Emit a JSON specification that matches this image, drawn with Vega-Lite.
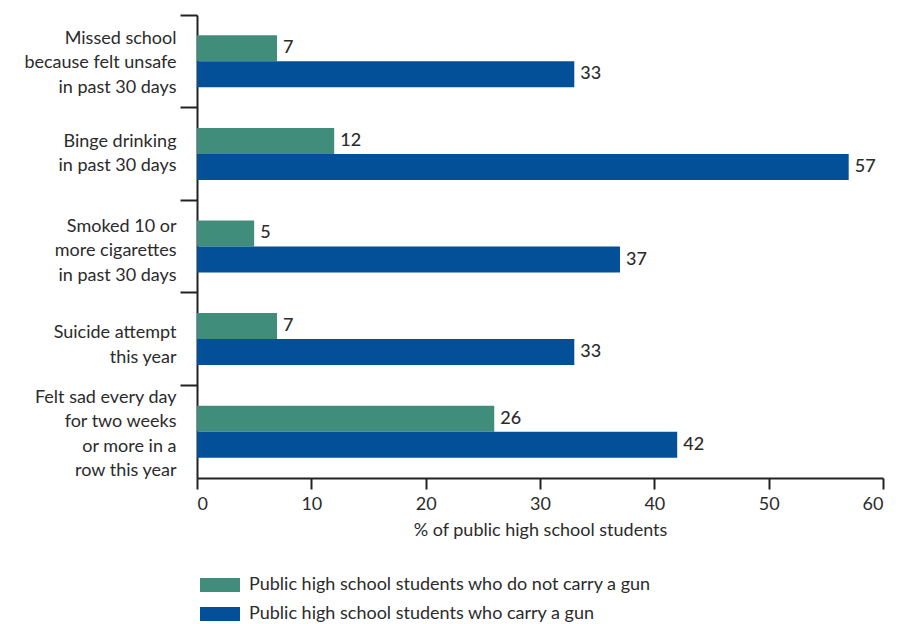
{
  "$schema": "https://vega.github.io/schema/vega-lite/v6.json",
  "width": 686,
  "height": 463,
  "autosize": "none",
  "padding": {"left": 197, "top": 15, "right": 15, "bottom": 146},
  "config": {"view": {"stroke": null}, "font": "Lato", "text": {"color": "#2b2b2b"}},
  "data": {
    "values": [
      {"category": "Missed school|because felt unsafe|in past 30 days", "group": "Public high school students who do not carry a gun", "value": 7},
      {"category": "Missed school|because felt unsafe|in past 30 days", "group": "Public high school students who carry a gun", "value": 33},
      {"category": "Binge drinking|in past 30 days", "group": "Public high school students who do not carry a gun", "value": 12},
      {"category": "Binge drinking|in past 30 days", "group": "Public high school students who carry a gun", "value": 57},
      {"category": "Smoked 10 or|more cigarettes|in past 30 days", "group": "Public high school students who do not carry a gun", "value": 5},
      {"category": "Smoked 10 or|more cigarettes|in past 30 days", "group": "Public high school students who carry a gun", "value": 37},
      {"category": "Suicide attempt|this year", "group": "Public high school students who do not carry a gun", "value": 7},
      {"category": "Suicide attempt|this year", "group": "Public high school students who carry a gun", "value": 33},
      {"category": "Felt sad every day|for two weeks|or more in a|row this year", "group": "Public high school students who do not carry a gun", "value": 26},
      {"category": "Felt sad every day|for two weeks|or more in a|row this year", "group": "Public high school students who carry a gun", "value": 42}
    ]
  },
  "encoding": {
    "y": {
      "field": "category",
      "type": "nominal",
      "sort": null,
      "scale": {"paddingInner": 0, "paddingOuter": 0},
      "axis": {
        "title": null,
        "bandPosition": 0,
        "labelExpr": "split(datum.label, '|')",
        "labelLineHeight": 24.5,
        "labelFontSize": 18,
        "labelColor": "#2b2b2b",
        "labelAlign": "right",
        "labelBaseline": "middle",
        "labelPadding": 4,
        "labelOffset": {
          "condition": [
            {"test": "indexof(datum.value, 'Missed') == 0", "value": -22.5},
            {"test": "indexof(datum.value, 'Binge') == 0", "value": -12},
            {"test": "indexof(datum.value, 'Smoked') == 0", "value": -20},
            {"test": "indexof(datum.value, 'Suicide') == 0", "value": -6},
            {"test": "indexof(datum.value, 'Felt') == 0", "value": -34}
          ],
          "value": 0
        },
        "tickSize": 17,
        "tickWidth": 2,
        "tickColor": "#222",
        "domainColor": "#222",
        "domainWidth": 2,
        "labelLimit": 300
      }
    },
    "yOffset": {
      "field": "group",
      "type": "nominal",
      "sort": ["Public high school students who do not carry a gun", "Public high school students who carry a gun"],
      "scale": {"paddingInner": 0, "paddingOuter": 0.78}
    },
    "x": {
      "field": "value",
      "type": "quantitative",
      "scale": {"domain": [0, 60], "nice": false},
      "axis": {
        "title": "% of public high school students",
        "titleFontSize": 18,
        "titleFontWeight": "normal",
        "titleColor": "#2b2b2b",
        "titlePadding": 8,
        "values": [0, 10, 20, 30, 40, 50, 60],
        "grid": false,
        "labelFontSize": 18,
        "labelColor": "#2b2b2b",
        "labelPadding": 6,
        "tickSize": 11,
        "tickWidth": 2,
        "tickColor": "#222",
        "domainColor": "#222",
        "domainWidth": 2
      }
    }
  },
  "layer": [
    {
      "mark": {"type": "bar"},
      "encoding": {
        "color": {
          "field": "group",
          "type": "nominal",
          "scale": {
            "domain": ["Public high school students who do not carry a gun", "Public high school students who carry a gun"],
            "range": ["#418D7B", "#034F98"]
          },
          "legend": {
            "title": null,
            "orient": "none",
            "legendX": 13,
            "legendY": 560,
            "direction": "vertical",
            "symbolType": "M-2,-0.7H2V0.7H-2Z",
            "symbolSize": 400,
            "symbolStrokeWidth": 0,
            "labelFontSize": 18,
            "labelColor": "#2b2b2b",
            "labelOffset": 19,
            "rowPadding": 10,
            "labelLimit": 600,
            "padding": 0
          }
        }
      }
    },
    {
      "mark": {"type": "text", "align": "left", "baseline": "middle", "dx": 6, "fontSize": 18, "fontWeight": 500},
      "encoding": {"text": {"field": "value", "type": "quantitative"}}
    }
  ]
}
